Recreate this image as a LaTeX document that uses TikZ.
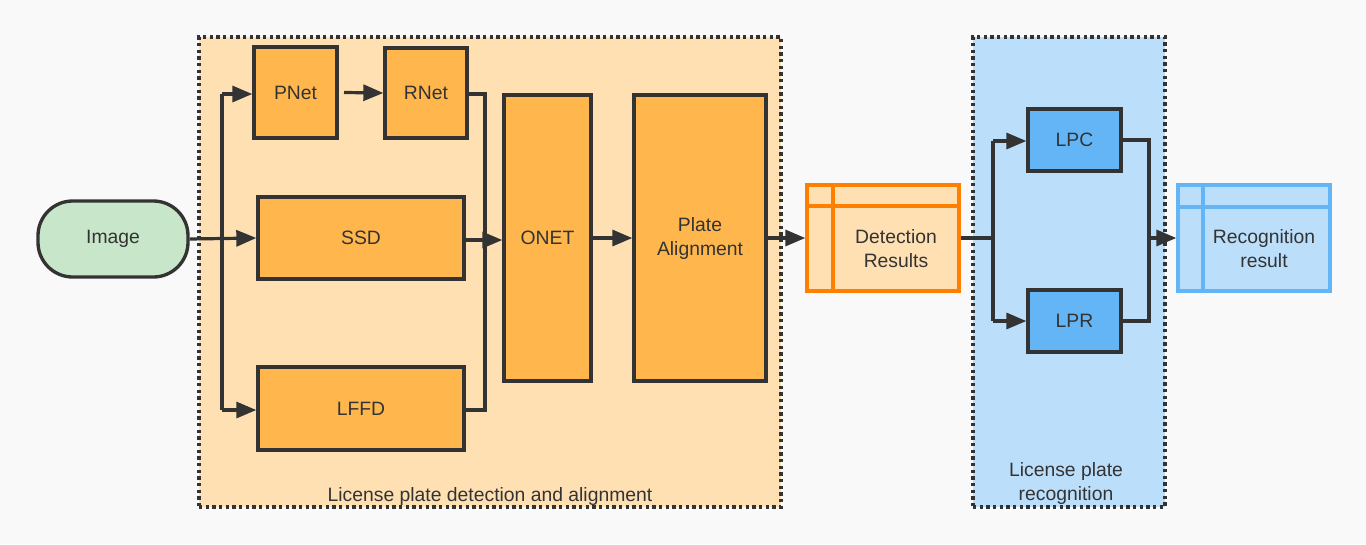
\documentclass[tikz,border=0pt]{standalone}
\usepackage{fontspec}
\setmainfont{Liberation Sans}
\usetikzlibrary{arrows.meta,positioning}
\definecolor{bgc}{HTML}{F9F9F9}
\definecolor{ink}{HTML}{333333}
\definecolor{lorange}{HTML}{FFE0B2}
\definecolor{morange}{HTML}{FFB74D}
\definecolor{dorange}{HTML}{FF8000}
\definecolor{lblue}{HTML}{BBDEFB}
\definecolor{mblue}{HTML}{64B5F6}
\definecolor{gfill}{HTML}{C8E6C9}
\tikzset{
  every node/.style={font=\fontsize{14.5}{17}\selectfont, text=ink, align=center, inner sep=0pt},
  twol/.style={font=\fontsize{14.5}{18}\selectfont},
  obox/.style={draw=ink, line width=2.5pt, fill=morange},
  bbox/.style={draw=ink, line width=2.5pt, fill=mblue},
  grp/.style={draw=ink, line width=2.5pt, dash pattern=on 2.5pt off 2.5pt},
  conn/.style={draw=ink, line width=2.4pt},
  arr/.style={conn, -{Triangle[length=15pt,width=12pt]}},
  tbl/.style={line width=2.5pt},
}
\begin{document}
\begin{tikzpicture}[x=0.75pt,y=-0.75pt]
\useasboundingbox (0,0) rectangle (1366,544);
\fill[bgc] (0,0) rectangle (1366,544);
% groups
\node[grp, fill=lorange, minimum width=436.5pt, minimum height=352.5pt] (g1) at (490,272) {};
\node[grp, fill=lblue, minimum width=144pt, minimum height=352.5pt] (g2) at (1069,272) {};
\node (g1l) at (490,496) {License plate detection and alignment};
\node[twol] (g2l) at (1066,483) {License plate\\recognition};
% nodes
\node[draw=ink, line width=2.5pt, fill=gfill, minimum width=112.5pt, minimum height=57pt, rounded corners=26pt] (img) at (113,239) {Image};
\node[obox, minimum width=62.25pt, minimum height=68.25pt] (pnet) at (295.5,92.5) {PNet};
\node[obox, minimum width=61.5pt, minimum height=67.5pt] (rnet) at (426,93) {RNet};
\node[obox, minimum width=154.5pt, minimum height=61.5pt] (ssd) at (361,238) {SSD};
\node[obox, minimum width=154.5pt, minimum height=62.25pt] (lffd) at (361,408.5) {LFFD};
\node[obox, minimum width=65.25pt, minimum height=214.5pt] (onet) at (547.5,238) {ONET};
\node[obox, minimum width=99pt, minimum height=214.5pt, twol] (plate) at (700,238) {Plate\\Alignment};
% detection results table
\node[draw=dorange, tbl, fill=lorange, minimum width=114pt, minimum height=79.5pt] (det) at (883,238) {};
\draw[dorange, tbl] (833,185) -- (833,291) (807,206) -- (959,206);
\node[twol] (dett) at (896,249) {Detection\\Results};
\node[bbox, minimum width=69.75pt, minimum height=46.5pt] (lpc) at (1074.5,140) {LPC};
\node[bbox, minimum width=69.75pt, minimum height=46.5pt] (lpr) at (1074.5,321) {LPR};
\node[draw=mblue, tbl, fill=lblue, minimum width=114pt, minimum height=79.5pt] (rec) at (1254,238) {};
\draw[mblue, tbl] (1203,185) -- (1203,291) (1178,207) -- (1330,207);
\node[twol] (rect) at (1264,249) {Recognition\\result};
% coordinates
\coordinate (s1) at (222,94);
\coordinate (s2) at (222,410);
\coordinate (m1) at (485,94);
\coordinate (m2) at (485,410);
\coordinate (m3) at (485,240);
\coordinate (d1) at (993,141);
\coordinate (d2) at (993,321);
\coordinate (e1) at (1149,140);
\coordinate (e2) at (1149,321);
\coordinate (e3) at (1149,238);
% connectors
\draw[arr] (img.east) -- (ssd.west);
\draw[conn] (s1) -- (s2);
\draw[arr] (s1) -- (pnet.west |- s1);
\draw[arr] (s2) -- (lffd.west |- s2);
\draw[arr] ([xshift=4pt]pnet.east) -- (rnet.west);
\draw[conn] (rnet.east |- m1) -- (m1) -- (m2) -- (lffd.east |- m2);
\draw[conn] (ssd.east |- m3) -- (m3);
\draw[arr] (m3) -- (onet.west |- m3);
\draw[arr] (onet.east) -- (plate.west);
\draw[arr] (plate.east) -- (det.west);
\draw[conn] (det.east) -- (det.east -| d1);
\draw[conn] (d1) -- (d2);
\draw[arr] (d1) -- (lpc.west |- d1);
\draw[arr] (d2) -- (lpr.west |- d2);
\draw[conn] (lpc.east |- e1) -- (e1) -- (e2) -- (lpr.east |- e2);
\draw[arr] (e3) -- (rec.west |- e3);
\end{tikzpicture}
\end{document}
